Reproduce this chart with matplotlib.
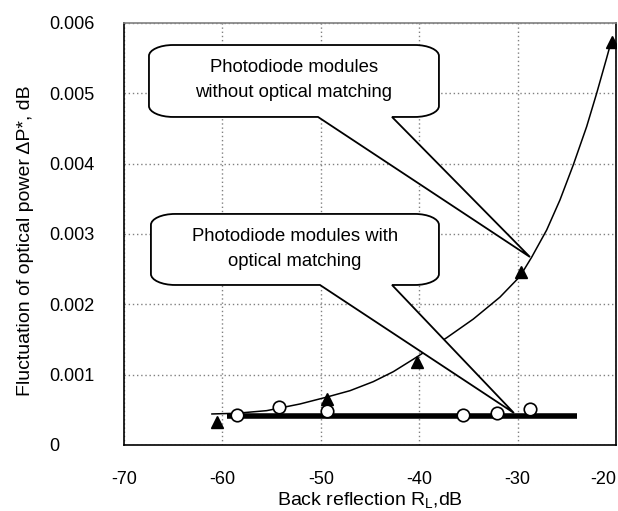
import numpy as np
import matplotlib
matplotlib.use("Agg")
from matplotlib import pyplot as plt
from matplotlib.path import Path
from matplotlib.patches import PathPatch

plt.rcParams["font.family"] = ["Liberation Sans", "DejaVu Sans"]
plt.rcParams["axes.unicode_minus"] = False
plt.rcParams["mathtext.default"] = "regular"

# ---- data ----
# filled triangles: modules without optical matching
tri_x = [-60.5, -49.4, -40.2, -29.7, -20.4]
tri_y = [0.00033, 0.00065, 0.00118, 0.00246, 0.00573]

# smooth trend curve drawn through the triangles
trend_x = [-61.06, -58.55, -55.50, -52.11, -49.47, -47.03, -44.67, -42.63,
           -40.60, -37.21, -34.50, -31.79, -30.77, -29.76, -28.57, -27.04,
           -25.69, -24.34, -22.98, -21.96, -20.95, -20.44]
trend_y = [0.000441, 0.000451, 0.000488, 0.000583, 0.000678, 0.000772,
           0.000900, 0.001042, 0.001219, 0.001524, 0.001790, 0.002102,
           0.002250, 0.002396, 0.002669, 0.003057, 0.003484, 0.003981,
           0.004526, 0.005001, 0.005500, 0.005759]

# open circles: modules with optical matching
circ_x = [-58.5, -54.2, -49.4, -35.5, -32.1, -28.7]
circ_y = [0.00043, 0.00054, 0.00048, 0.00043, 0.00046, 0.00051]

# thick level line for the matched modules
level_x = [-59.5, -24.0]
level_y = [0.00041, 0.00041]

x_ticks = [-70, -60, -50, -40, -30, -20]
y_ticks = [0, 0.001, 0.002, 0.003, 0.004, 0.005, 0.006]
y_tick_labels = ["0", "0.001", "0.002", "0.003", "0.004", "0.005", "0.006"]

callout_texts = [
    "Photodiode modules\nwithout optical matching",
    "Photodiode modules with\noptical matching",
]


def callout_path(x0, x1, y0, y1, rx, ry, wx0, wx1, tip):
    """Rounded rectangle (elliptic corners) with a wedge on the bottom edge."""
    k = 0.5523
    verts = [
        (x0 + rx, y1),
        (x1 - rx, y1),
        (x1 - rx + k * rx, y1), (x1, y1 - ry + k * ry), (x1, y1 - ry),
        (x1, y0 + ry),
        (x1, y0 + ry - k * ry), (x1 - rx + k * rx, y0), (x1 - rx, y0),
        (wx1, y0),
        tip,
        (wx0, y0),
        (x0 + rx, y0),
        (x0 + rx - k * rx, y0), (x0, y0 + ry - k * ry), (x0, y0 + ry),
        (x0, y1 - ry),
        (x0, y1 - ry + k * ry), (x0 + rx - k * rx, y1), (x0 + rx, y1),
        (x0 + rx, y1),
    ]
    codes = [Path.MOVETO, Path.LINETO,
             Path.CURVE4, Path.CURVE4, Path.CURVE4,
             Path.LINETO,
             Path.CURVE4, Path.CURVE4, Path.CURVE4,
             Path.LINETO, Path.LINETO, Path.LINETO, Path.LINETO,
             Path.CURVE4, Path.CURVE4, Path.CURVE4,
             Path.LINETO,
             Path.CURVE4, Path.CURVE4, Path.CURVE4,
             Path.CLOSEPOLY]
    return Path(verts, codes)


fig = plt.figure(figsize=(6.18, 5.11), dpi=100)
ax = fig.add_axes([0.2006, 0.1292, 0.7961, 0.8258])

ax.plot(trend_x, trend_y, color="black", linewidth=1.1, zorder=3)
ax.plot(level_x, level_y, color="black", linewidth=4.0, solid_capstyle="butt", zorder=2)
ax.plot(tri_x, tri_y, linestyle="none", marker="^", markersize=9,
        color="black", zorder=4)
ax.plot(circ_x, circ_y, linestyle="none", marker="o", markersize=9,
        markerfacecolor="white", markeredgecolor="black", markeredgewidth=1.2, zorder=5)

ax.set_xlim(-70, -20)
ax.set_ylim(0, 0.006)
ax.set_xticks(x_ticks)
ax.set_xticklabels([str(v) for v in x_ticks])
ax.get_xticklabels()[-1].set_horizontalalignment("right")
ax.set_yticks(y_ticks)
ax.set_yticklabels(y_tick_labels, ha="left")
ax.tick_params(axis="both", length=0, labelsize=13)
ax.tick_params(axis="y", pad=54)
ax.tick_params(axis="x", pad=19)

ax.grid(True, color="#808080", linestyle=(0, (1, 2)), linewidth=1.0)
ax.set_axisbelow(True)

for side in ["left", "bottom", "right"]:
    ax.spines[side].set_color("black")
    ax.spines[side].set_linewidth(1.2)
ax.spines["top"].set_color("#808080")
ax.spines["top"].set_linewidth(1.2)

ax.set_xlabel("Back reflection R$_\\mathregular{L}$,dB", fontsize=14)
ax.set_ylabel("Fluctuation of optical power \u0394P*, dB", fontsize=14)
ax.xaxis.set_label_coords(0.5, -0.106)
ax.yaxis.set_label_coords(-0.183, 0.485)

# ---- callouts ----
rx, ry = 2.45, 0.000156
boxes = [
    dict(x0=-67.46, x1=-37.99, y0=0.004664, y1=0.005687,
         wx0=-50.28, wx1=-42.76, tip=(-28.74, 0.002673), tx=-52.72, ty=0.00519),
    dict(x0=-67.26, x1=-37.99, y0=0.002275, y1=0.003285,
         wx0=-50.08, wx1=-42.76, tip=(-30.37, 0.000455), tx=-52.62, ty=0.002787),
]
for b, label in zip(boxes, callout_texts):
    path = callout_path(b["x0"], b["x1"], b["y0"], b["y1"], rx, ry,
                        b["wx0"], b["wx1"], b["tip"])
    ax.add_patch(PathPatch(path, facecolor="white", edgecolor="black",
                           linewidth=1.3, zorder=6, joinstyle="miter"))
    ax.text(b["tx"], b["ty"], label, ha="center", va="center", fontsize=13.3,
            linespacing=1.65, zorder=7)

plt.savefig("out.png", dpi=100)
